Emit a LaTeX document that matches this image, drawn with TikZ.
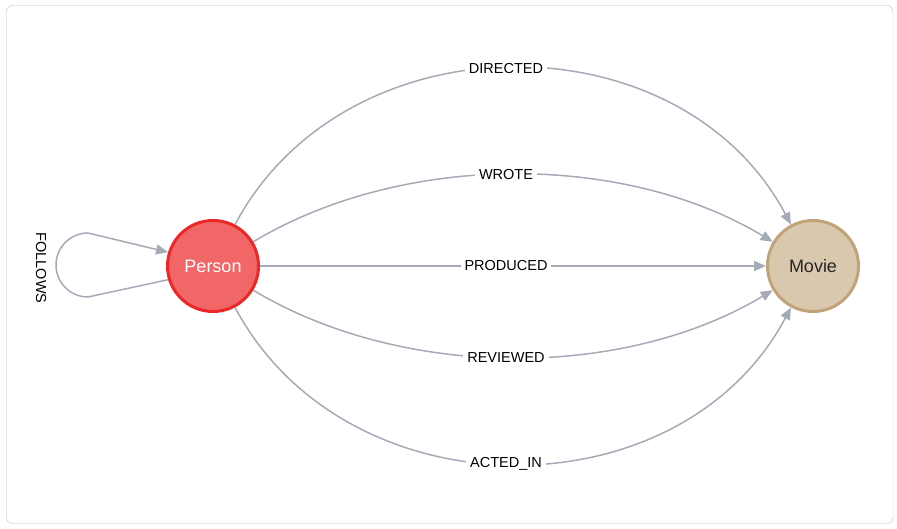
\documentclass[tikz,border=0pt]{standalone}
\usepackage{fontspec}
\setmainfont{Liberation Sans}
\usetikzlibrary{arrows.meta}
\definecolor{personfill}{HTML}{F16667}
\definecolor{persondraw}{HTML}{EB2728}
\definecolor{moviefill}{HTML}{D9C8AE}
\definecolor{moviedraw}{HTML}{C0A378}
\definecolor{relgray}{HTML}{A5ABB6}
\definecolor{frame}{HTML}{BFBFBF}
\tikzset{>={Triangle[length=12pt,width=10pt]}}
\tikzset{
  label node/.style={circle, minimum size=91pt, line width=3pt, inner sep=0pt, font=\fontsize{18}{20}\selectfont},
  rel/.style={->, relgray, line width=1.5pt},
  rel label/.style={fill=white, text=black, inner sep=4pt, xshift=-7pt, font=\fontsize{14.5}{16}\selectfont}
}

\begin{document}
\begin{tikzpicture}[x=1pt, y=1pt]
    \useasboundingbox (0,0) rectangle (897,529);
    \draw[frame, rounded corners=6pt] (6.5,5.5) rectangle (893,523.5);
    \node[label node, fill=personfill, draw=persondraw, text=white] (person) at (213,263) {Person};
    \node[label node, fill=moviefill, draw=moviedraw, text={black!85}] (movie) at (813,263) {Movie};
    \draw[rel] (person) to[out=62, in=118, looseness=1.09] node[rel label] {DIRECTED} (movie);
    \draw[rel] (person) to[out=31, in=149, looseness=0.86] node[rel label] {WROTE} (movie);
    \draw[rel] (person) -- node[rel label] {PRODUCED} (movie);
    \draw[rel] (person) to[out=-31, in=-149, looseness=0.86] node[rel label] {REVIEWED} (movie);
    \draw[rel] (person) to[out=-62, in=-118, looseness=1.09] node[rel label] {ACTED\_IN} (movie);
    % self loop
    \coordinate (loopb) at (88,232);
    \coordinate (loopt) at (88,296);
    \draw[rel] (person.197) -- (loopb) arc(270:90:32) -- (person.163);
    \node[rel label, fill=none, xshift=7pt, rotate=-90] (follows) at (41,261) {FOLLOWS};
\end{tikzpicture}
\end{document}
